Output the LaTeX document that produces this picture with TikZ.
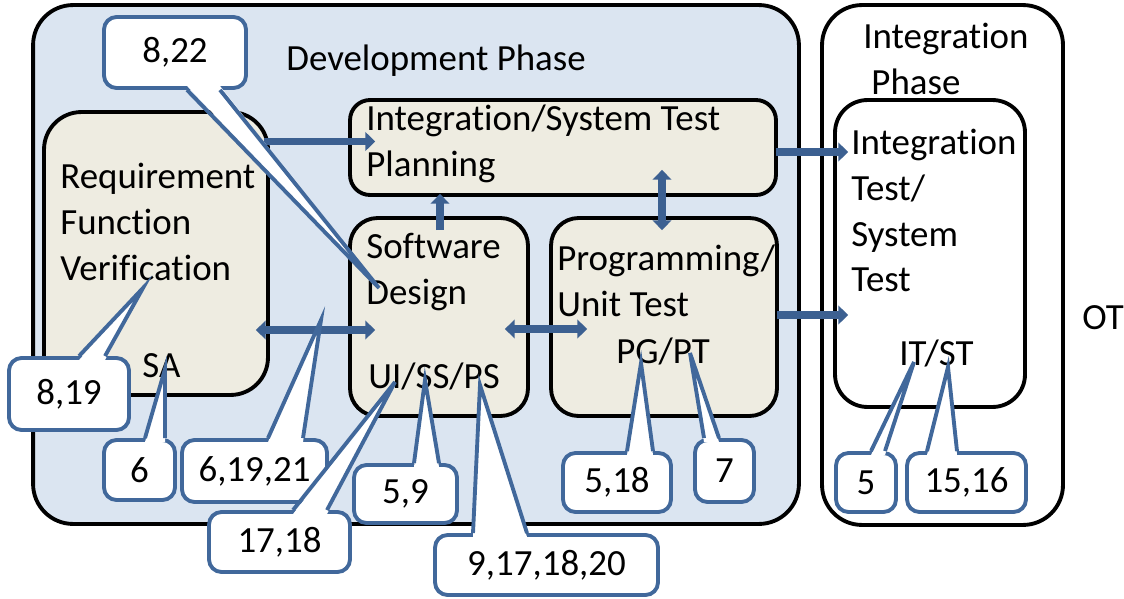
\documentclass[tikz,border=0pt]{standalone}
\usepackage{fontspec}
\setmainfont{Carlito}[Ligatures=NoCommon]
\usepackage{xcolor}
\usetikzlibrary{arrows.meta,calc,positioning}

\definecolor{devfill}{RGB}{219,229,241}
\definecolor{taskfill}{RGB}{238,236,225}
\definecolor{noteblue}{RGB}{65,104,155}
\definecolor{flowblue}{RGB}{60,96,145}

% callout pointer: node, anchor, left dx, right dx, tip, inward dy
\newcommand{\calloutwedge}[6]{%
  \fill[white] ($(#1.#2)+(#3,#6)$) -- (#5) -- ($(#1.#2)+(#4,#6)$) -- cycle;
  \draw[note line] ($(#1.#2)+(#3,0)$) -- (#5) -- ($(#1.#2)+(#4,0)$);}

\begin{document}
\begin{tikzpicture}[x=0.02cm, y=-0.02cm,
    font=\fontsize{21}{26}\selectfont,
    phase/.style={draw, line width=2.2pt, rounded corners=0.8cm, inner sep=0},
    task/.style={draw, line width=2.2pt, fill=taskfill, inner sep=0},
    note/.style={draw=noteblue, line width=2.2pt, fill=white, rounded corners=0.25cm, inner sep=0},
    note line/.style={draw=noteblue, line width=2.2pt},
    flow/.style={draw=flowblue, line width=4.2pt, >={Triangle[length=5.5pt,width=10.5pt]}},
    txt/.style={inner sep=0, align=left}]

  \useasboundingbox (0,0) rectangle (1124,598);

  % phases
  \node[phase, fill=devfill, minimum width=15.32cm, minimum height=10.38cm] (dev) at (416,264.5) {};
  \node[phase, minimum width=4.82cm, minimum height=10.4cm] (intph) at (942.5,265) {};
  \node[txt, anchor=base west] (devtitle) at (286,71) {Development Phase};
  \node[txt, anchor=north west] (inttitle) at (863,23) {Integration\\\hspace*{0.22em}Phase};
  \node[txt, anchor=base west] (ot) at (1082,329) {OT};

  % tasks
  \node[task, rounded corners=0.75cm, minimum width=4.48cm, minimum height=5.66cm] (req) at (156,253.5) {};
  \node[task, rounded corners=0.4cm, minimum width=8.52cm, minimum height=1.9cm] (istp) at (563,147.5) {};
  \node[task, rounded corners=0.55cm, minimum width=3.56cm, minimum height=3.96cm] (sd) at (439,317) {};
  \node[task, rounded corners=0.55cm, minimum width=4.52cm, minimum height=3.96cm] (put) at (664,317) {};
  \node[task, fill=white, rounded corners=0.65cm, minimum width=3.8cm, minimum height=6.14cm] (itst) at (930,253.5) {};

  \node[txt, anchor=north west] (reqtxt) at (60,163) {Requirement\\Function\\Verification};
  \node[txt, anchor=base west] (sa) at (142,377) {SA};
  \node[txt, anchor=north west] (istptxt) at (366,105) {Integration/System Test\\Planning};
  \node[txt, anchor=north west] (sdtxt) at (366,233) {Software\\Design};
  \node[txt, anchor=base west] (uissps) at (368,388) {UI/SS/PS};
  \node[txt, anchor=north west] (puttxt) at (557,245) {Programming/\\Unit Test};
  \node[txt, anchor=base west] (pgpt) at (616,363) {PG/PT};
  \node[txt, anchor=north west] (itsttxt) at (851,129) {Integration\\Test/\\System\\Test};
  \node[txt, anchor=base west] (itst2) at (899,365) {IT/ST};

  % flows
  \draw[flow, ->] ($(req.east |- istp.west)+(-6,-6)$) -- ($(istp.west)+(27,-6)$);
  \draw[flow, <->] ($(req.east |- sd.west)+(-14,13)$) -- ($(sd.west)+(27,13)$);
  \draw[flow, ->] ($(sd.north)+(1,14)$) -- ($(sd.north |- istp.south)+(1,-3)$);
  \draw[flow, <->] ($(put.north)+(-2,14)$) -- ($(put.north |- istp.south)+(-2,-27)$);
  \draw[flow, <->] ($(sd.east)+(-25,12)$) -- ($(put.west)+(38,12)$);
  \draw[flow, ->] ($(istp.east)+(-2,4.5)$) -- ($(itst.west |- istp.east)+(15,4.5)$);
  \draw[flow, ->] ($(put.east)+(-2,-2)$) -- ($(itst.west |- put.east)+(15,-2)$);

  % callouts
  \coordinate (tip822) at (379,288);
  \coordinate (tip819) at (143,288);
  \coordinate (tip6) at (165,369);
  \coordinate (tip61921) at (321,320);
  \coordinate (tip1718) at (395,382);
  \coordinate (tip59) at (425,380);
  \coordinate (tip9171820) at (480,385);
  \coordinate (tip518) at (641,363);
  \coordinate (tip7) at (690,353);
  \coordinate (tip5) at (914,362);
  \coordinate (tip1516) at (948,367);

  \node[note, minimum width=2.84cm, minimum height=1.42cm] (n822) at (175,52.5) {8,22};
  \calloutwedge{n822}{south}{12}{45}{tip822}{-4}
  \node[note, minimum width=2.4cm, minimum height=1.44cm] (n819) at (69,394) {8,19};
  \calloutwedge{n819}{north}{10}{36}{tip819}{4}
  \node[note, minimum width=1.42cm, minimum height=1.2cm] (n6) at (139.5,470) {6};
  \calloutwedge{n6}{north}{5.5}{25.5}{tip6}{4}
  \node[note, minimum width=2.9cm, minimum height=1.24cm] (n61921) at (254.5,471) {6,19,21};
  \calloutwedge{n61921}{north}{13.5}{48.5}{tip61921}{4}
  \node[note, minimum width=2.82cm, minimum height=1.2cm] (n1718) at (279.5,542) {17,18};
  \calloutwedge{n1718}{north}{13.5}{47.5}{tip1718}{4}
  \node[note, minimum width=2.06cm, minimum height=1.16cm] (n59) at (405.5,494) {5,9};
  \calloutwedge{n59}{north}{8.5}{33.5}{tip59}{4}
  \node[note, minimum width=4.46cm, minimum height=1.2cm] (n9171820) at (546.5,565) {9,17,18,20};
  \calloutwedge{n9171820}{north}{-73.5}{-19.5}{tip9171820}{4}
  \node[note, minimum width=2.16cm, minimum height=1.18cm] (n518) at (617,482.5) {5,18};
  \calloutwedge{n518}{north}{10}{36}{tip518}{4}
  \node[note, minimum width=1.18cm, minimum height=1.24cm] (n7) at (724.5,471) {7};
  \calloutwedge{n7}{north}{-20.5}{-5.5}{tip7}{4}
  \node[note, minimum width=1.2cm, minimum height=1.18cm] (n5) at (866,482.5) {5};
  \calloutwedge{n5}{north}{5}{19}{tip5}{4}
  \node[note, minimum width=2.38cm, minimum height=1.18cm] (n1516) at (966.5,482.5) {15,16};
  \calloutwedge{n1516}{north}{-39.5}{-9.5}{tip1516}{4}
\end{tikzpicture}
\end{document}
